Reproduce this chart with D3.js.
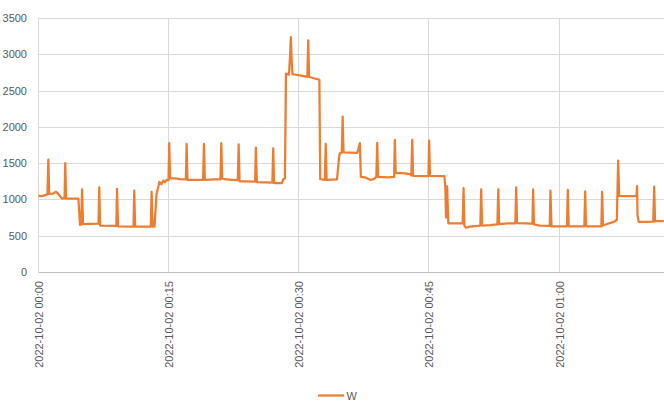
<!DOCTYPE html>
<html>
<head>
<meta charset="utf-8">
<script src="https://cdn.jsdelivr.net/npm/d3@7"></script>
<style>
  body { margin: 0; background: #fff; }
  #chart-area text { font-family: "Liberation Sans", Arial, sans-serif; fill: #595959; }
</style>
</head>
<body>
<div id="chart-area"></div>
<script>
// Readings of the meter, 2022-10-02 (time of day, watts)
var times = [
    "00:00:00","00:00:24","00:00:45","00:01:02","00:01:08","00:01:14","00:01:40","00:02:01","00:02:15","00:02:29",
    "00:02:42","00:03:00","00:03:05","00:03:11","00:04:36","00:04:47","00:04:56","00:05:01","00:05:08","00:06:55",
    "00:07:00","00:07:06","00:08:58","00:09:03","00:09:10","00:10:57","00:11:02","00:11:08","00:12:57","00:13:02",
    "00:13:09","00:13:22","00:13:36","00:13:56","00:14:10","00:14:23","00:14:34","00:14:46","00:14:59","00:15:04",
    "00:15:10","00:15:44","00:16:18","00:16:59","00:17:04","00:17:10","00:18:58","00:19:04","00:19:10","00:20:20",
    "00:20:58","00:21:04","00:21:10","00:21:36","00:22:18","00:22:58","00:23:04","00:23:10","00:23:48","00:24:58",
    "00:25:03","00:25:10","00:26:06","00:26:57","00:27:03","00:27:09","00:28:03","00:28:13","00:28:24","00:28:31",
    "00:28:52","00:29:00","00:29:05","00:29:11","00:29:16","00:30:08","00:30:59","00:31:05","00:31:11","00:31:43",
    "00:32:22","00:32:28","00:33:00","00:33:06","00:33:12","00:34:24","00:34:37","00:34:44","00:34:57","00:35:03",
    "00:35:09","00:35:53","00:36:44","00:37:02","00:37:09","00:37:44","00:38:12","00:38:39","00:38:56","00:39:02",
    "00:39:08","00:40:16","00:40:59","00:41:04","00:41:10","00:42:13","00:42:48","00:42:58","00:43:04","00:43:10",
    "00:44:56","00:45:01","00:45:07","00:46:46","00:46:53","00:46:58","00:47:05","00:47:14","00:47:59","00:48:53",
    "00:48:59","00:49:05","00:49:15","00:49:43","00:50:55","00:51:01","00:51:07","00:52:01","00:52:53","00:52:59",
    "00:53:05","00:54:06","00:54:57","00:55:03","00:55:09","00:56:03","00:56:55","00:57:00","00:57:06","00:57:46",
    "00:58:55","00:59:00","00:59:07","01:00:05","01:00:54","01:01:00","01:01:06","01:02:09","01:02:54","01:03:00",
    "01:03:06","01:04:07","01:04:52","01:04:57","01:05:03","01:05:36","01:06:18","01:06:39","01:06:48","01:06:55",
    "01:07:55","01:08:54","01:08:59","01:09:02","01:09:10","01:10:00","01:10:51","01:10:57","01:11:03","01:12:04"
];
var watts = [
    1050,1045,1060,1070,1550,1075,1080,1105,1080,1040,
    1015,1015,1500,1010,1010,650,655,1140,660,665,
    1165,640,635,1145,630,625,1120,625,625,1105,
    625,625,1070,1240,1210,1260,1235,1270,1265,1775,
    1290,1290,1280,1275,1765,1270,1270,1765,1270,1275,
    1275,1775,1290,1275,1270,1265,1760,1250,1250,1245,
    1715,1240,1235,1230,1705,1225,1225,1280,1290,2735,
    2720,3000,3235,2900,2725,2710,2690,3190,2690,2670,
    2650,1280,1270,1765,1270,1275,1560,1640,1645,2140,
    1650,1645,1640,1775,1310,1300,1270,1280,1310,1780,
    1310,1305,1310,1820,1365,1360,1350,1330,1820,1325,
    1320,1810,1325,1320,1180,750,1180,670,670,670,
    1155,640,610,625,640,1140,640,645,655,1140,
    660,670,670,1165,675,670,665,1140,655,640,
    635,1120,630,630,630,1130,630,630,630,1110,
    630,630,630,1105,640,665,690,720,1535,1050,
    1045,1045,1185,780,690,690,695,1175,700,700
];
var yTicks = [0, 500, 1000, 1500, 2000, 2500, 3000, 3500];
var xStart = "00:00:00", xEnd = "01:12:05";
var seriesName = "W";

var margin = { left: 38.5, right: 0, top: 18, bottom: 138 },
    width = 664 - margin.left - margin.right,
    height = 410 - margin.top - margin.bottom;

var svg = d3.select("#chart-area").append("svg")
    .attr("width", 664)
    .attr("height", 410);

var g = svg.append("g")
    .attr("transform", "translate(" + margin.left + ", " + margin.top + ")");

var parseTime = d3.timeParse("%Y-%m-%d %H:%M:%S");
var formatTime = d3.timeFormat("%Y-%m-%d %H:%M");
var day = "2022-10-02 ";

var data = times.map(function(d, i) {
    return { DATE: parseTime(day + d), W: watts[i] };
});

// Scales
var x = d3.scaleTime()
    .domain([parseTime(day + xStart), parseTime(day + xEnd)])
    .range([0, width]);
var y = d3.scaleLinear()
    .domain([0, 3500])
    .range([height, 0]);

var xTicks = d3.timeMinute.every(15).range(x.domain()[0], x.domain()[1]);

// Gridlines
g.append("g")
    .attr("class", "y grid")
    .selectAll("line")
    .data(yTicks)
    .enter().append("line")
    .attr("x1", 0)
    .attr("x2", width)
    .attr("y1", function(d) { return Math.round(y(d)) + 0.5; })
    .attr("y2", function(d) { return Math.round(y(d)) + 0.5; })
    .attr("stroke", function(d) { return d === 0 ? "#bfbfbf" : "#d9d9d9"; })
    .attr("stroke-width", 1);

g.append("g")
    .attr("class", "x grid")
    .selectAll("line")
    .data(xTicks)
    .enter().append("line")
    .attr("x1", function(d) { return Math.round(x(d)); })
    .attr("x2", function(d) { return Math.round(x(d)); })
    .attr("y1", 0)
    .attr("y2", height)
    .attr("stroke", "#d9d9d9")
    .attr("stroke-width", 1);

// Axes
var yAxisCall = d3.axisLeft(y)
    .tickValues(yTicks)
    .tickSize(0)
    .tickPadding(11.5)
    .tickFormat(d3.format("d"));
var yAxis = g.append("g")
    .attr("class", "y axis")
    .call(yAxisCall);
yAxis.select(".domain").remove();
yAxis.selectAll("text")
    .attr("font-size", "11px");

var xAxisCall = d3.axisBottom(x)
    .tickValues(xTicks)
    .tickSize(0)
    .tickFormat(formatTime);
var xAxis = g.append("g")
    .attr("class", "x axis")
    .attr("transform", "translate(0," + height + ")")
    .call(xAxisCall);
xAxis.select(".domain").remove();
xAxis.selectAll("text")
    .attr("font-size", "11px")
    .attr("text-anchor", "end")
    .attr("transform", "rotate(-90)")
    .attr("x", -9)
    .attr("y", 0)
    .attr("dy", "0.35em");

// Line
var line = d3.line()
    .x(function(d) { return x(d.DATE); })
    .y(function(d) { return y(d.W); });

g.append("path")
    .attr("class", "line")
    .attr("fill", "none")
    .attr("stroke", "#ED7D31")
    .attr("stroke-width", "2.25px")
    .attr("stroke-linejoin", "round")
    .attr("d", line(data));

// Legend
var legend = svg.append("g")
    .attr("class", "legend")
    .attr("transform", "translate(318, 395.5)");

legend.append("line")
    .attr("x1", 0)
    .attr("x2", 26)
    .attr("stroke", "#ED7D31")
    .attr("stroke-width", 2.25);

legend.append("text")
    .attr("x", 28.5)
    .attr("y", 4)
    .attr("font-size", "11px")
    .text(seriesName);
</script>
</body>
</html>
